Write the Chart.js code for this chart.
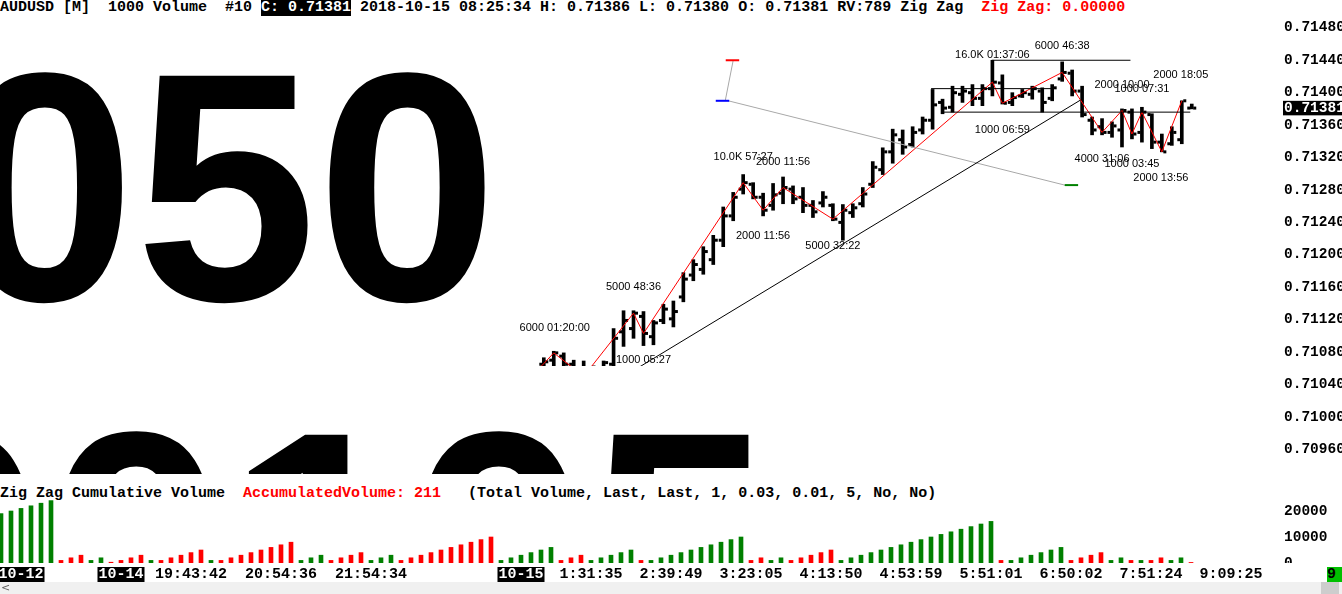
<!DOCTYPE html>
<html><head><meta charset="utf-8">
<script src="https://cdn.jsdelivr.net/npm/chart.js@4.4.1/dist/chart.umd.min.js"></script>
<style>
html,body{margin:0;padding:0;background:#fff;width:1342px;height:594px;overflow:hidden;position:relative}
.mono{position:absolute;left:0;font-family:'Liberation Mono',monospace;font-weight:bold;font-size:15px;line-height:15px;white-space:pre;color:#000}
.inv{background:#000;color:#fff}
.red{color:#ff0000}
canvas{position:absolute;left:0}
#scroll{position:absolute;left:0;top:582px;width:1342px;height:12px;background:#f0f0f0;z-index:5}
#thumb{position:absolute;left:1321px;top:0;width:18px;height:12px;background:#cdcdcd}
#arrow{position:absolute;left:1px;top:-1px;font:11px 'DejaVu Sans',sans-serif;color:#606060}
#nowbox{position:absolute;left:1327px;top:567px;width:15px;height:15px;background:#00c000;overflow:hidden;font-family:'Liberation Mono',monospace;font-weight:bold;font-size:15px;line-height:15px;color:#000;z-index:4}
</style></head><body>
<div class="mono" id="hdr" style="top:0"></div>
<canvas id="price" width="1342" height="458" style="top:16px"></canvas>
<div class="mono" id="vtitle" style="top:486px"></div>
<canvas id="vol" width="1342" height="67" style="top:496px"></canvas>
<canvas id="axis" width="1342" height="24" style="top:561px"></canvas>
<div id="nowbox">9</div>
<div id="scroll"><span id="arrow">&lt;</span><div id="thumb"></div></div>
<script>
// ---------------- header texts ----------------
const hdrPre = "AUDUSD [M]  1000 Volume  #10 ";
const hdrClose = "C: 0.71381";
const hdrMid = " 2018-10-15 08:25:34 H: 0.71386 L: 0.71380 O: 0.71381 RV:789 Zig Zag  ";
const hdrZZ = "Zig Zag: 0.00000";
const volTitle = "Zig Zag Cumulative Volume  ";
const volTitleRed = "AccumulatedVolume: 211";
const volTitleTail = "   (Total Volume, Last, Last, 1, 0.03, 0.01, 5, No, No)";

// ---------------- price data (bars from index 54) ----------------
const barStart = 54;
const opens  = [0.71065,0.71070,0.71075,0.71065,0.71061,0.71053,0.71061,0.71065,0.71105,0.71109,
                0.71124,0.71099,0.71119,0.71121,0.71148,0.71175,0.71182,0.71194,0.71218,0.71248,
                0.71281,0.71287,0.71271,0.71261,0.71276,0.71281,0.71271,0.71261,0.71264,0.71261,
                0.71240,0.71252,0.71263,0.71287,0.71305,0.71327,0.71342,0.71336,0.71354,0.71366,
                0.71388,0.71382,0.71398,0.71400,0.71393,0.71405,0.71412,0.71388,0.71396,0.71398,
                0.71402,0.71393,0.71417,0.71424,0.71402,0.71366,0.71358,0.71351,0.71354,0.71376,
                0.71351,0.71373,0.71339,0.71337,0.71342,0.71381];
const highs  = [0.71073,0.71081,0.71079,0.71070,0.71069,0.71063,0.71069,0.71109,0.71131,0.71131,
                0.71130,0.71119,0.71139,0.71143,0.71178,0.71194,0.71210,0.71224,0.71259,0.71277,
                0.71299,0.71289,0.71276,0.71288,0.71296,0.71285,0.71283,0.71267,0.71278,0.71263,
                0.71262,0.71263,0.71283,0.71315,0.71332,0.71355,0.71354,0.71358,0.71370,0.71404,
                0.71392,0.71408,0.71408,0.71410,0.71410,0.71440,0.71422,0.71400,0.71404,0.71408,
                0.71406,0.71410,0.71438,0.71428,0.71408,0.71370,0.71368,0.71364,0.71380,0.71380,
                0.71382,0.71374,0.71349,0.71358,0.71390,0.71386];
const lows   = [0.71058,0.71061,0.71058,0.71055,0.71046,0.71048,0.71056,0.71061,0.71087,0.71097,
                0.71088,0.71089,0.71115,0.71111,0.71142,0.71168,0.71176,0.71188,0.71210,0.71242,
                0.71275,0.71269,0.71248,0.71255,0.71263,0.71263,0.71252,0.71246,0.71259,0.71242,
                0.71218,0.71246,0.71259,0.71283,0.71299,0.71313,0.71324,0.71333,0.71349,0.71355,
                0.71374,0.71376,0.71388,0.71384,0.71384,0.71396,0.71386,0.71384,0.71394,0.71392,
                0.71376,0.71390,0.71414,0.71396,0.71370,0.71348,0.71348,0.71345,0.71333,0.71343,
                0.71339,0.71331,0.71327,0.71335,0.71337,0.71380];
const closes = [0.71068,0.71079,0.71065,0.71061,0.71050,0.71061,0.71067,0.71097,0.71119,0.71128,
                0.71103,0.71116,0.71133,0.71130,0.71170,0.71188,0.71204,0.71218,0.71248,0.71271,
                0.71289,0.71271,0.71255,0.71274,0.71283,0.71269,0.71261,0.71253,0.71271,0.71244,
                0.71255,0.71258,0.71275,0.71308,0.71327,0.71348,0.71333,0.71351,0.71366,0.71385,
                0.71381,0.71400,0.71402,0.71393,0.71405,0.71413,0.71387,0.71394,0.71400,0.71405,
                0.71388,0.71406,0.71425,0.71402,0.71373,0.71354,0.71351,0.71359,0.71378,0.71349,
                0.71376,0.71339,0.71327,0.71351,0.71390,0.71381];
const lastPrice = 0.71381;
const priceTicks = [0.70960,0.71000,0.71040,0.71080,0.71120,0.71160,0.71200,0.71240,0.71280,0.71320,0.71360,0.71400,0.71440,0.71480];

// zig zag (Last price) swing points
const zzIdx = [49,55,58,63,64,74,76,78,83,99,100,106,110,112,113,114,116,118];
const zzVal = [0.71000,0.71079,0.71050,0.71128,0.71103,0.71289,0.71255,0.71283,0.71244,0.71413,0.71387,0.71425,0.71351,0.71378,0.71349,0.71376,0.71327,0.71390];

// swing labels (volume + duration)
const lblText = ['6000 01:20:00','5000 48:36','1000 05:27','10.0K 57:27','2000 11:56','2000 11:56','5000 32:22','16.0K 01:37:06','6000 46:38','1000 06:59','2000 10:00','1000 07:31','2000 18:05','4000 31:06','1000 03:45','2000 13:56'];
const lblIdx  = [55.1,63,64,74,78,76,83,99,106,100,112,114,117.9,110,113,115.9];
const lblVal  = [0.71110,0.71160,0.71070,0.71321,0.71314,0.71223,0.71211,0.71446,0.71458,0.71354,0.71409,0.71405,0.71422,0.71318,0.71312,0.71295];

// drawing objects
const trendIdx = [58, 107.85];
const trendVal = [0.71020, 0.71391];
const hLineFrom = [92.85, 94.15, 98.95];
const hLineTo   = [105.0, 118.85, 112.85];
const hLineVal  = [0.71405, 0.71376, 0.71440];
const grayIdx = [72.5, 106.25];
const grayVal = [0.71390, 0.71286];
const connIdx = [73.0, 72.2];
const connVal = [0.71440, 0.71390];
const markRed   = {from:72.25, to:73.6, val:0.71440};
const markBlue  = {from:71.25, to:72.6, val:0.71390};
const markGreen = {from:106.25, to:107.6, val:0.71286};

// ---------------- volume panel ----------------
const volumes = [19000,20000,21000,22000,23000,24000,
  1000,2000,3000, 1000,2000, 300, 1000,2000,3000, 1000,
  1000,2000,3000,4000,5000, 1000,
  1000,2000,3000,4000,5000,6000,7000,8000,
  1000,2000,3000, 1000,2000,3000,4000, 1000,2000,3000,
  1000,2000,3000,4000,5000,6000,7000,8000,9000,10000,
  1000,2000,3000,4000,5000,6000, 1000,2000,3000,
  1000,2000,3000,4000,5000, 1000,
  1000,2000,3000,4000,5000,6000,7000,8000,9000,10000,
  1000,2000, 1000,2000, 1000,2000,3000,4000,5000,
  1000,2000,3000,4000,5000,6000,7000,8000,9000,10000,11000,12000,13000,14000,15000,16000,
  1000, 1000,2000,3000,4000,5000,6000, 1000,2000,3000,4000,
  1000,2000, 1000, 1000, 1000,2000, 1000,2000, 211];
const volSide = ('GGGGGG RRR GG R RRR G RRRRR G RRRRRRRR GGG RRRR GGG RRRRRRRRRR GGGGGG RRR GGGGG R ' +
                 'GGGGGGGGGG RR GG RRRRR GGGGGGGGGGGGGGGG R GGGGGG RRRR GG R G RR GG R').replace(/ /g,'').split('');
const volTicks = [0, 10000, 20000];

// ---------------- time axis ----------------
const timeIdx = [2,12,19,28,37,52,59,67,75,83,91,99,107,115,123];
const timeLabels = ['10-12','10-14','19:43:42','20:54:36','21:54:34','10-15','1:31:35','2:39:49','3:23:05','4:13:50','4:53:59','5:51:01','6:50:02','7:51:24','9:09:25'];

// big background text
const bigLine1 = '050';
const bigLine2 = '00105';

// ---------------- build HTML texts ----------------
function span(t, cls){ const s=document.createElement('span'); s.textContent=t; if(cls) s.className=cls; return s; }
const hdr=document.getElementById('hdr');
hdr.append(span(hdrPre), span(hdrClose,'inv'), span(hdrMid), span(hdrZZ,'red'));
const vt=document.getElementById('vtitle');
vt.append(span(volTitle), span(volTitleRed,'red'), span(volTitleTail));

Chart.defaults.font.family = "'Liberation Mono', monospace";
const monoTick = {family:"'Liberation Mono', monospace", weight:'bold', size:14.5, lineHeight:1};

const common = {responsive:false, animation:false, devicePixelRatio:1, layout:{padding:0},
  plugins:{legend:{display:false}, tooltip:{enabled:false}}, events:[]};

// ---------------- price chart ----------------
const idx = closes.map((c,i)=>barStart+i);
const bigTextPlugin = {
  id:'bigText',
  afterDatasetsDraw(chart){
    const {ctx, scales:{x,y}} = chart;
    ctx.save();
    ctx.fillStyle='#fff';
    ctx.fillRect(0, 350, 748, 120);
    ctx.fillStyle='#000';
    ctx.font = "bold 326px 'Liberation Sans'";
    ctx.textAlign='left'; ctx.textBaseline='alphabetic';
    ctx.fillText(bigLine1, -46, 284);
    ctx.fillText(bigLine2, -136, 643);
    ctx.font = "11px 'Liberation Sans'";
    ctx.textAlign='center'; ctx.textBaseline='middle';
    lblText.forEach((t,i)=>ctx.fillText(t, x.getPixelForValue(lblIdx[i]), y.getPixelForValue(lblVal[i])));
    ctx.restore();
  }
};
function seg(xs, ys, color, w, order){
  return {type:'line', data: xs.map((v,i)=>({x:v,y:ys[i]})), borderColor:color, borderWidth:w,
          pointRadius:0, fill:false, tension:0, order};
}
const lineSets = [
  seg(zzIdx, zzVal, '#ff0000', 1, 3),
  seg(trendIdx, trendVal, '#000000', 1, 2),
  seg(grayIdx, grayVal, '#a8a8a8', 1, 2),
  seg(connIdx, connVal, '#a8a8a8', 1, 2),
  seg([markRed.from, markRed.to],[markRed.val, markRed.val], '#ff0000', 2, 1),
  seg([markBlue.from, markBlue.to],[markBlue.val, markBlue.val], '#0000ff', 2, 1),
  seg([markGreen.from, markGreen.to],[markGreen.val, markGreen.val], '#008000', 2, 1),
];
hLineVal.forEach((v,i)=>lineSets.push(seg([hLineFrom[i], hLineTo[i]],[v,v],'#000000',1,2)));

const yMaxP = 0.7148967, yMinP = 0.7148967 - 458/82500;
new Chart(document.getElementById('price'), {
  type:'bar',
  data:{datasets:[
    {type:'bar', data: idx.map((k,i)=>({x:k, y:[lows[i], highs[i]]})), backgroundColor:'#000', barThickness:3, borderWidth:0, order:6},
    {type:'line', showLine:false, data: idx.map((k,i)=>({x:k-0.3, y:opens[i]})), pointStyle:'rect', pointRadius:2.12, pointBackgroundColor:'#000', pointBorderWidth:0, order:5},
    {type:'line', showLine:false, data: idx.map((k,i)=>({x:k+0.3, y:closes[i]})), pointStyle:'rect', pointRadius:2.12, pointBackgroundColor:'#000', pointBorderWidth:0, order:5},
    ...lineSets
  ]},
  options:{...common,
    scales:{
      x:{type:'linear', min:-0.15, max:127.35, display:false, offset:false},
      y:{type:'linear', position:'right', min:yMinP, max:yMaxP,
         grid:{display:false, drawTicks:false}, border:{display:false},
         afterBuildTicks(s){ s.ticks = priceTicks.concat([lastPrice]).map(v=>({value:v})); },
         afterFit(s){ s.width=67; s.paddingTop=0; s.paddingBottom=0; },
         ticks:{autoSkip:false, padding:9, font:monoTick,
           callback:v=>Number(v).toFixed(5),
           color:c=> (c.tick && c.tick.value===lastPrice) ? '#fff' : '#000',
           showLabelBackdrop:true,
           backdropColor:c=> (c.tick && c.tick.value===lastPrice) ? '#000' : 'rgba(0,0,0,0)',
           backdropPadding:{left:1,right:4,top:0,bottom:0}}
      }
    }
  },
  plugins:[bigTextPlugin]
});

// ---------------- volume chart ----------------
new Chart(document.getElementById('vol'), {
  type:'bar',
  data:{datasets:[{data: volumes.map((v,k)=>({x:k,y:v})),
    backgroundColor: volSide.map(s=> s==='G' ? '#008000' : '#ff0000'),
    barThickness:4, borderWidth:0}]},
  options:{...common,
    scales:{
      x:{type:'linear', min:-0.1, max:127.4, display:false, offset:false},
      y:{type:'linear', position:'right', min:0, max:25770,
         grid:{display:false, drawTicks:false}, border:{display:false},
         afterBuildTicks(s){ s.ticks = volTicks.map(v=>({value:v})); },
         afterFit(s){ s.width=67; s.paddingTop=0; s.paddingBottom=0; },
         ticks:{autoSkip:false, padding:9, font:monoTick, color:'#000', callback:v=>String(v)}}
    }
  }
});

// ---------------- time axis ----------------
const isDate = timeLabels.map(t=>/^\d\d-\d\d$/.test(t));
new Chart(document.getElementById('axis'), {
  type:'line',
  data:{datasets:[]},
  options:{...common,
    scales:{
      x:{type:'linear', position:'bottom', min:-0.1, max:134.1, offset:false,
         grid:{display:false, drawTicks:false}, border:{display:false},
         afterBuildTicks(s){ s.ticks = timeIdx.map(v=>({value:v})); },
         afterFit(s){ s.height=20; s.paddingLeft=0; s.paddingRight=0; },
         ticks:{autoSkip:false, maxRotation:0, minRotation:0, padding:2,
           font:{family:"'Liberation Mono', monospace", weight:'bold', size:15, lineHeight:1},
           callback:(v,i)=>timeLabels[i],
           color:c=> isDate[c.index] ? '#fff' : '#000',
           showLabelBackdrop:true,
           backdropColor:c=> isDate[c.index] ? '#000' : 'rgba(0,0,0,0)',
           backdropPadding:{left:1,right:1,top:0,bottom:0}}},
      y:{display:false, min:0, max:1}
    }
  }
});
</script>
</body></html>
